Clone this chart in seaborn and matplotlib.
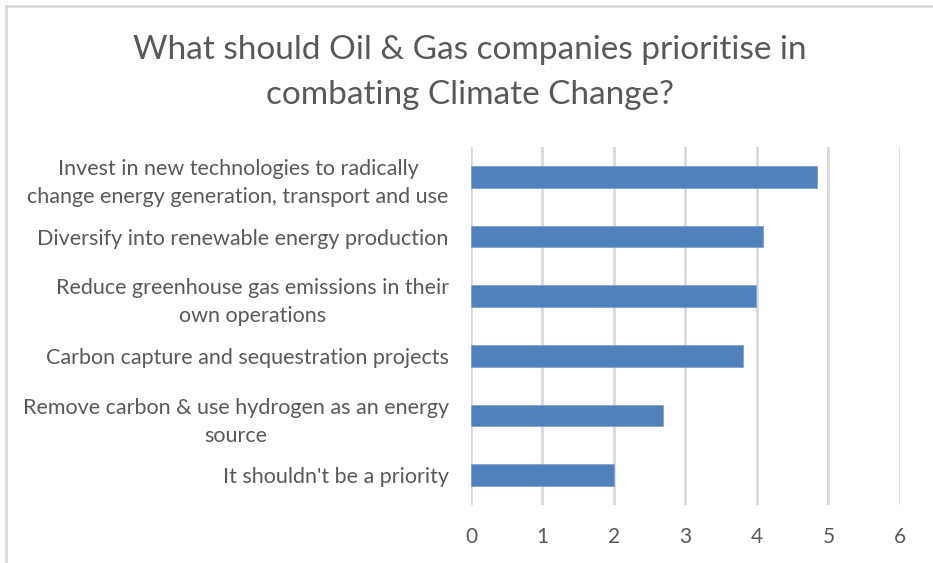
import matplotlib
matplotlib.use("Agg")
import matplotlib.pyplot as plt
from matplotlib.lines import Line2D
import seaborn as sns
import pandas as pd

categories = [
    "Invest in new technologies to radically\nchange energy generation, transport and use",
    "Diversify into renewable energy production",
    "Reduce greenhouse gas emissions in their\nown operations",
    "Carbon capture and sequestration projects",
    "Remove carbon & use hydrogen as an energy\nsource",
    "It shouldn't be a priority",
]
scores = [4.84, 4.08, 3.98, 3.80, 2.68, 2.00]
x_ticks = [0, 1, 2, 3, 4, 5, 6]
title = "What should Oil & Gas companies prioritise in\ncombating Climate Change?"

sns.set_theme(style="white")
plt.rcParams["font.family"] = ["Lato", "DejaVu Sans"]

text_color = "#595959"
grid_color = "#d9d9d9"
bar_color = "#4f81bd"

df = pd.DataFrame({"option": categories, "score": scores})

fig = plt.figure(figsize=(9.33, 5.63), dpi=100)
ax = fig.add_axes([0.5048, 0.1030, 0.4598, 0.6359])

sns.barplot(data=df, x="score", y="option", orient="h", color=bar_color,
            width=0.36, saturation=1, edgecolor="#7fa3d1", linewidth=0.6,
            ax=ax, zorder=3)

ax.set_xlim(0, 6)
ax.set_ylim(5.5, -0.5)
ax.set_xticks(x_ticks)
ax.set_xticklabels([str(t) for t in x_ticks])
ax.xaxis.grid(True, color=grid_color, linewidth=2)
ax.set_axisbelow(True)
for s in ax.spines.values():
    s.set_visible(False)
ax.set_xlabel("")
ax.set_ylabel("")
ax.tick_params(axis="x", length=0, pad=16, labelsize=15, labelcolor=text_color)
ax.tick_params(axis="y", length=0, pad=16, labelsize=15.5, labelcolor=text_color)
for lbl in ax.get_yticklabels():
    lbl.set_multialignment("center")
    lbl.set_linespacing(1.5)

fig.text(0.5035, 0.871, title, ha="center", va="center", fontsize=24,
         color=text_color, linespacing=1.6)

# chart-area frame (left and top edges)
W, H = 933, 563
fig.add_artist(Line2D([6 / W, 6 / W], [0, 1 - 6 / H], transform=fig.transFigure,
                      color=grid_color, linewidth=2))
fig.add_artist(Line2D([6 / W, 1], [1 - 6 / H, 1 - 6 / H], transform=fig.transFigure,
                      color=grid_color, linewidth=2))

fig.savefig("out.png", dpi=100)
